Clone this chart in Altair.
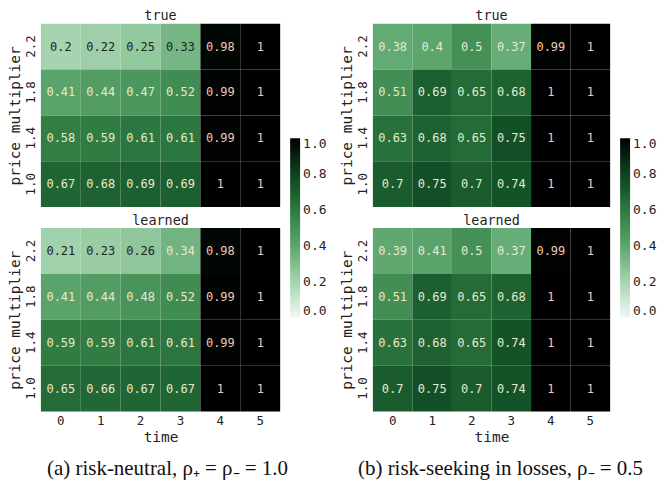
import altair as alt
import pandas as pd

times = [0, 1, 2, 3, 4, 5]
multipliers = ["2.2", "1.8", "1.4", "1.0"]

a_true = [
    [0.2, 0.22, 0.25, 0.33, 0.98, 1],
    [0.41, 0.44, 0.47, 0.52, 0.99, 1],
    [0.58, 0.59, 0.61, 0.61, 0.99, 1],
    [0.67, 0.68, 0.69, 0.69, 1, 1],
]
a_learned = [
    [0.21, 0.23, 0.26, 0.34, 0.98, 1],
    [0.41, 0.44, 0.48, 0.52, 0.99, 1],
    [0.59, 0.59, 0.61, 0.61, 0.99, 1],
    [0.65, 0.66, 0.67, 0.67, 1, 1],
]
b_true = [
    [0.38, 0.4, 0.5, 0.37, 0.99, 1],
    [0.51, 0.69, 0.65, 0.68, 1, 1],
    [0.63, 0.68, 0.65, 0.75, 1, 1],
    [0.7, 0.75, 0.7, 0.74, 1, 1],
]
b_learned = [
    [0.39, 0.41, 0.5, 0.37, 0.99, 1],
    [0.51, 0.69, 0.65, 0.68, 1, 1],
    [0.63, 0.68, 0.65, 0.74, 1, 1],
    [0.7, 0.75, 0.7, 0.74, 1, 1],
]

caption_a = "(a) risk-neutral, \u03c1\u208a = \u03c1\u208b = 1.0"
caption_b = "(b) risk-seeking in losses, \u03c1\u208b = 0.5"

legend_ticks = [0.0, 0.2, 0.4, 0.6, 0.8, 1.0]
cmap_domain = [0.0, 0.2, 0.4, 0.6, 0.7, 0.8, 1.0]
cmap_range = ["#f2f9f3", "#a5d4ae", "#5ca66d", "#2e7a41", "#1a5c2e", "#0c4420", "#000000"]

MONO = "DejaVu Sans Mono"
SERIF = "Liberation Serif"


def to_frame(rows):
    recs = []
    for m, row in zip(multipliers, rows):
        for t, v in zip(times, row):
            recs.append({"time": t, "mult": m, "value": v})
    return pd.DataFrame(recs)


def heat(rows, title, show_x, width, legend_x):
    df = to_frame(rows)
    base = alt.Chart(df)
    if show_x:
        xax = alt.Axis(title="time", labelAngle=0, labelFont=MONO, labelFontSize=12.5,
                       titleFont=MONO, titleFontSize=14.5, titleFontWeight="normal",
                       ticks=False, domain=False, grid=False, labelPadding=3,
                       titlePadding=4, labelColor="#222222", titleColor="#222222")
    else:
        xax = None
    x = alt.X("time:O", sort=times, axis=xax)
    y = alt.Y("mult:O", sort=multipliers,
              axis=alt.Axis(title="price multiplier", labelAngle=270, labelAlign="center",
                            labelBaseline="bottom", labelFont=MONO, labelFontSize=12.5,
                            titleFont=MONO, titleFontSize=14.5, titleFontWeight="normal",
                            ticks=False, domain=False, grid=False, labelPadding=3,
                            titlePadding=2, labelColor="#222222", titleColor="#222222"))
    rect = base.mark_rect().encode(
        x=x, y=y,
        color=alt.Color("value:Q",
                        scale=alt.Scale(domain=cmap_domain, range=cmap_range,
                                        interpolate="rgb"),
                        legend=alt.Legend(orient="none", legendX=legend_x, legendY=115,
                                          title=None, gradientLength=180, gradientThickness=10,
                                          values=legend_ticks, format=".1f",
                                          labelFont=MONO, labelFontSize=13,
                                          labelColor="#222222", labelOffset=3)),
    )
    text = base.mark_text(font=MONO, fontSize=12).encode(
        x=x, y=y,
        text=alt.Text("value:Q", format=".2~g"),
        fill={"condition": [{"test": "datum.value >= 0.9", "value": "#efc8bb"},
                            {"test": "datum.value >= 0.335", "value": "#e8e9cc"}],
              "value": "#222222"},
    )
    return alt.layer(rect, text).properties(
        width=width, height=184,
        title=alt.TitleParams(title, font=MONO, fontSize=13.5, fontWeight="normal",
                              frame="group", anchor="middle", offset=1, color="#222222"),
    )


def panel(t_rows, l_rows, caption, width, legend_x, dx):
    return alt.vconcat(heat(t_rows, "true", False, width, legend_x),
                       heat(l_rows, "learned", True, width, legend_x),
                       spacing=6).properties(
        title=alt.TitleParams(caption, orient="bottom", font=SERIF, fontSize=21,
                              fontWeight="normal", anchor="middle", offset=14, dx=dx,
                              color="#111111"))


chart = alt.hconcat(panel(a_true, a_learned, caption_a, 240, 250, 0),
                    panel(b_true, b_learned, caption_b, 238, 248, 2),
                    spacing=13).resolve_scale(color="independent").configure_view(
    stroke=None).properties(padding=0, background="white")

chart.save("out.html", embed_options={"renderer": "svg", "actions": False})
